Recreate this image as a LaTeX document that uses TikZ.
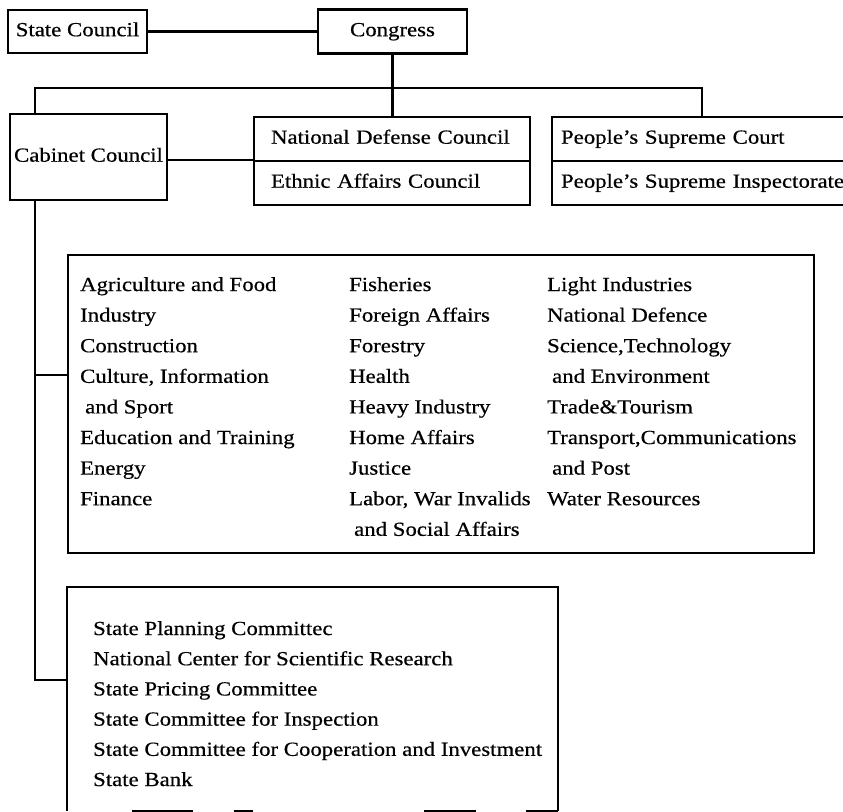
\documentclass[tikz,border=0pt]{standalone}
\usepackage{fontspec}
\setmainfont{Liberation Serif}[FakeStretch=1.14, FakeBold=0.5]
\begin{document}
\begin{tikzpicture}[x=1pt,y=-1pt,
  line width=2.3pt, line join=miter,
  orgbox/.style={draw, rectangle, inner sep=0pt, text height=13.7pt, text depth=4.3pt,
                 font=\fontsize{20}{24}\selectfont},
  leftbox/.style={orgbox, align=left},
  listtext/.style={inner sep=0pt, anchor=north west, align=left,
                   font=\fontsize{20}{30.6}\selectfont},
  bottext/.style={inner sep=0pt, anchor=north west, align=left,
                  font=\fontsize{20}{30.2}\selectfont}
]
\useasboundingbox (0,0) rectangle (843,811);

% top level
\node[orgbox, minimum width=139pt, minimum height=43pt] (sc) at (77.5,31.5) {State Council};
\node[orgbox, minimum width=149pt, minimum height=44pt] (cong) at (392.5,31.5) {Congress};

% second level
\node[orgbox, minimum width=157pt, minimum height=86pt] (cab) at (88.5,157) {Cabinet Council};
\node[leftbox, minimum height=44pt, inner xsep=17pt, text width=242pt] (ndc) at (392,139) {National Defense Council};
\node[leftbox, minimum height=44pt, inner xsep=17pt, text width=242pt] (eac) at (392,183) {Ethnic Affairs Council};
\node[leftbox, minimum height=44pt, inner xsep=9pt, text width=300pt] (psc) at (711,139) {People's Supreme Court};
\node[leftbox, minimum height=44pt, inner xsep=9pt, text width=300pt] (psi) at (711,183) {People's Supreme Inspectorate};

% ministries
\node[draw, rectangle, inner sep=0pt, minimum width=746pt, minimum height=298pt] (main) at (441,404) {};
\node[listtext] (colA) at (79,276) {Agriculture and Food\\Industry\\Construction\\Culture, Information\\\hspace{5pt}and Sport\\Education and Training\\Energy\\Finance};
\node[listtext] (colB) at (348,276) {Fisheries\\Foreign Affairs\\Forestry\\Health\\Heavy Industry\\Home Affairs\\Justice\\Labor, War Invalids\\\hspace{5pt}and Social Affairs};
\node[listtext] (colC) at (546,276) {Light Industries\\National Defence\\Science,Technology\\\hspace{5pt}and Environment\\Trade\&Tourism\\Transport,Communications\\\hspace{5pt}and Post\\Water Resources};

% state committees
\node[rectangle, inner sep=0pt, minimum width=489pt, minimum height=222pt] (bot) at (312.5,699) {};
\draw (bot.south west) -- (bot.north west) -- (bot.north east) -- (bot.south east);
\draw[dash pattern=on 0pt off 65pt on 61pt off 41pt on 19pt off 171pt on 52pt off 50pt on 40pt]
  (bot.south west) -- (bot.south east);
\node[bottext] (botlist) at (92,620) {State Planning Committec\\National Center for Scientific Research\\State Pricing Committee\\State Committee for Inspection\\State Committee for Cooperation and Investment\\State Bank};

% connectors
\coordinate (busL) at (35,88);
\coordinate (busR) at (702,88);
\coordinate (brM) at (35,375);
\coordinate (brB) at (35,680);

\draw (sc.east) -- (cong.west);
\draw (cong.south) -- (cong.south |- ndc.north);
\draw (busL |- cab.north) -- (busL) -- (busR) -- (busR |- psc.north);
\draw (cab.east |- eac.north) -- (eac.north west);
\draw (busL |- cab.south) -- (brB) -- (brB -| bot.west);
\draw (brM) -- (brM -| main.west);
\end{tikzpicture}
\end{document}
